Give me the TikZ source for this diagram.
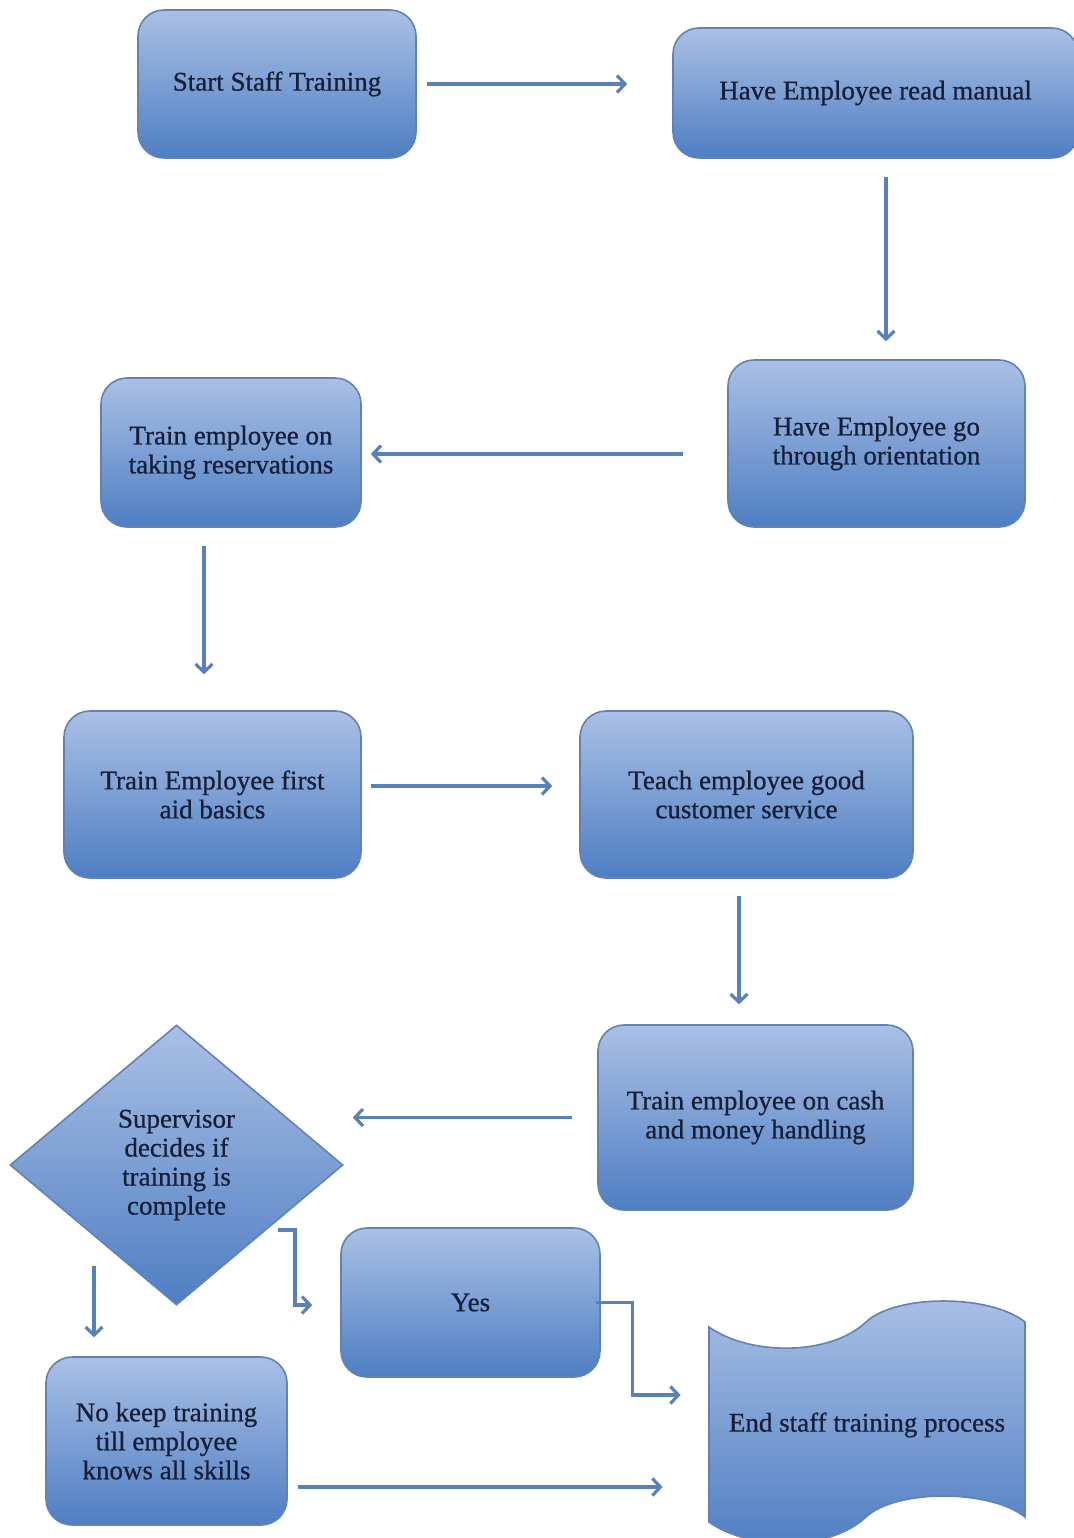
\documentclass[tikz,border=0pt]{standalone}
\usepackage{fontspec}
\setmainfont{Liberation Serif}
\newfontfamily\labelfont[FakeBold=0.7]{Liberation Serif}
\usetikzlibrary{arrows.meta,shapes.geometric}
\definecolor{boxtop}{RGB}{170,192,229}
\definecolor{boxbot}{RGB}{78,126,195}
\definecolor{boxline}{RGB}{98,130,180}
\definecolor{arrowblue}{RGB}{88,128,186}
\definecolor{inktext}{RGB}{22,30,56}
\tikzset{
  boxtext/.style={align=center, font=\labelfont\fontsize{13.5}{14.5}\selectfont, text=inktext},
  stepbox/.style={boxtext, rectangle, rounded corners=13pt, draw=boxline, line width=0.8pt,
    top color=boxtop, bottom color=boxbot, inner sep=0pt},
  decbox/.style={boxtext, diamond, draw=boxline, line width=0.8pt,
    top color=boxtop, bottom color=boxbot, inner sep=0pt},
  arr/.style={draw=arrowblue, line width=1.6pt, -{Straight Barb[length=4pt,width=8.5pt]}},
}
\begin{document}
\begin{tikzpicture}[x=0.5pt,y=-0.5pt]
  \fill[white] (0,0) rectangle (1073,1538);
  \useasboundingbox (0,0) rectangle (1073,1538);

  % process steps
  \node[stepbox, minimum width=139pt, minimum height=74pt]   (start)    at (277,84)      {Start Staff Training};
  \node[stepbox, minimum width=202.5pt, minimum height=65pt] (manual)   at (875.5,93)    {Have Employee read manual};
  \node[stepbox, minimum width=148.5pt, minimum height=83.5pt] (orient) at (876.5,443.5) {Have Employee go\\through orientation};
  \node[stepbox, minimum width=130pt, minimum height=74.5pt] (reserv)   at (231,452.5)   {Train employee on\\taking reservations};
  \node[stepbox, minimum width=148.5pt, minimum height=83.5pt] (firstaid) at (212.5,794.5) {Train Employee first\\aid basics};
  \node[stepbox, minimum width=166.5pt, minimum height=83.5pt] (service) at (746.5,794.5) {Teach employee good\\customer service};
  \node[stepbox, minimum width=157.5pt, minimum height=92.5pt] (cash)   at (755.5,1117.5) {Train employee on cash\\and money handling};
  \node[decbox, minimum width=166.5pt, minimum height=140pt]  (decide)  at (176.5,1165)  {Supervisor\\decides if\\training is\\complete};
  \node[stepbox, minimum width=129.5pt, minimum height=74.5pt] (yes)    at (470.5,1302.5) {Yes};
  \node[stepbox, minimum width=120.5pt, minimum height=84pt]  (no)      at (166.5,1441)  {No keep training\\till employee\\knows all skills};

  % terminal: punched-tape shape
  \shade[top color=boxtop, bottom color=boxbot, draw=boxline, line width=0.8pt]
    (709,1327) .. controls (750,1356) and (830,1356) .. (866,1322)
    .. controls (896,1294) and (990,1294) .. (1025,1322)
    -- (1025,1517)
    .. controls (990,1489) and (896,1489) .. (866,1517)
    .. controls (830,1551) and (750,1551) .. (709,1522) -- cycle;
  \node[boxtext, minimum width=158pt, minimum height=95pt, inner sep=0pt] (finish) at (867,1425) {End staff training process};

  % connectors
  \draw[arr] ([xshift=5pt]start.east) -- ([xshift=-22.5pt]start.east -| manual.west);

  \coordinate (m1) at ([shift={(5.25pt,-9pt)}]manual.south);
  \draw[arr] (m1) -- ([yshift=9pt]m1 |- orient.north);

  \coordinate (o1) at ([shift={(-22pt,-5.25pt)}]orient.west);
  \draw[arr] (o1) -- ([xshift=4.5pt]o1 -| reserv.east);

  \coordinate (r1) at ([shift={(-13.5pt,-9pt)}]reserv.south);
  \draw[arr] (r1) -- ([yshift=18pt]r1 |- firstaid.north);

  \coordinate (f1) at ([shift={(4.5pt,4.25pt)}]firstaid.east);
  \draw[arr] (f1) -- ([xshift=-13.5pt]f1 -| service.west);

  \coordinate (s1) at ([shift={(-3.75pt,-8.5pt)}]service.south);
  \draw[arr] (s1) -- ([yshift=10pt]s1 |- cash.north);

  \coordinate (c1) at ([shift={(-12.5pt,0pt)}]cash.west);
  \draw[arr] (c1) -- ([xshift=4.5pt]c1 -| decide.east);

  \coordinate (d1) at ([shift={(50.75pt,-32.5pt)}]decide.center);
  \draw[arr] (d1) -- ++(8.5pt,0) |- ([shift={(-14pt,-1.25pt)}]yes.west);

  \coordinate (d2) at ([shift={(-41.25pt,20pt)}]decide.south);
  \draw[arr] (d2) -- ([yshift=9.5pt]d2 |- no.north);

  \coordinate (y1) at ([xshift=-2.5pt]yes.east);
  \draw[arr] (y1) -- ++(18.5pt,0) |- ([shift={(-14pt,15pt)}]finish.west);

  \coordinate (n1) at ([shift={(5pt,-23pt)}]no.east);
  \draw[arr] (n1) -- ([xshift=-23pt]n1 -| finish.west);
\end{tikzpicture}
\end{document}
